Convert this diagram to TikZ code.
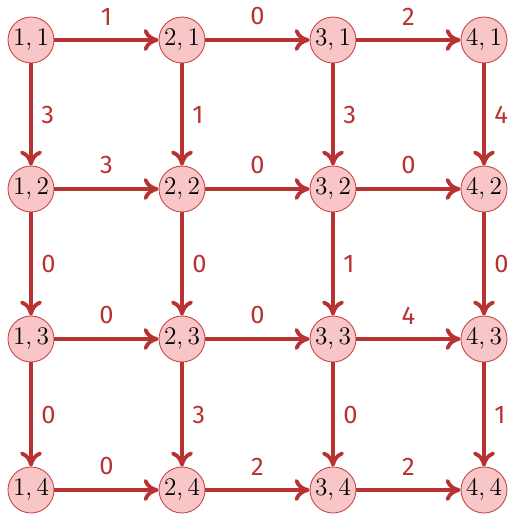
\documentclass[tikz,border=0pt]{standalone}
\usepackage{fontspec}
\usepackage{xcolor}
\usetikzlibrary{arrows.meta}
\newfontfamily\lblfont{Fira Sans}
\definecolor{edgered}{HTML}{B93232}
\definecolor{nodepink}{HTML}{F8C6C6}
\definecolor{nodeline}{HTML}{C84444}

\begin{document}
\begin{tikzpicture}[
    x=0.02cm,y=-0.02cm,
    vertex/.style={circle,draw=nodeline,fill=nodepink,line width=0.5pt,
                   minimum size=0.92cm,inner sep=0pt,
                   font=\fontsize{15}{17}\selectfont},
    arrow/.style={-{Computer Modern Rightarrow[length=0.3cm,width=0.44cm]},
                  draw=edgered,line width=2.2pt},
    weight/.style={font=\lblfont\fontsize{14.5}{16}\selectfont,text=edgered},
    hw/.style={weight,above=4pt},
    vw/.style={weight,right=1.5pt}
  ]
    \useasboundingbox (0,0) rectangle (512,515);
    % grid of vertices
    \node[vertex] (v11) at (31,40) {$1,1$};
    \node[vertex] (v21) at (182,40) {$2,1$};
    \node[vertex] (v31) at (333,40) {$3,1$};
    \node[vertex] (v41) at (484,40) {$4,1$};
    \node[vertex] (v12) at (31,189) {$1,2$};
    \node[vertex] (v22) at (182,189) {$2,2$};
    \node[vertex] (v32) at (333,189) {$3,2$};
    \node[vertex] (v42) at (484,189) {$4,2$};
    \node[vertex] (v13) at (31,339) {$1,3$};
    \node[vertex] (v23) at (182,339) {$2,3$};
    \node[vertex] (v33) at (333,339) {$3,3$};
    \node[vertex] (v43) at (484,339) {$4,3$};
    \node[vertex] (v14) at (31,490) {$1,4$};
    \node[vertex] (v24) at (182,490) {$2,4$};
    \node[vertex] (v34) at (333,490) {$3,4$};
    \node[vertex] (v44) at (484,490) {$4,4$};
    % horizontal edges
    \draw[arrow] (v11) -- node[hw] {1} (v21);
    \draw[arrow] (v21) -- node[hw] {0} (v31);
    \draw[arrow] (v31) -- node[hw] {2} (v41);
    \draw[arrow] (v12) -- node[hw] {3} (v22);
    \draw[arrow] (v22) -- node[hw] {0} (v32);
    \draw[arrow] (v32) -- node[hw] {0} (v42);
    \draw[arrow] (v13) -- node[hw] {0} (v23);
    \draw[arrow] (v23) -- node[hw] {0} (v33);
    \draw[arrow] (v33) -- node[hw] {4} (v43);
    \draw[arrow] (v14) -- node[hw] {0} (v24);
    \draw[arrow] (v24) -- node[hw] {2} (v34);
    \draw[arrow] (v34) -- node[hw] {2} (v44);
    % vertical edges
    \draw[arrow] (v11) -- node[vw] {3} (v12);
    \draw[arrow] (v12) -- node[vw] {0} (v13);
    \draw[arrow] (v13) -- node[vw] {0} (v14);
    \draw[arrow] (v21) -- node[vw] {1} (v22);
    \draw[arrow] (v22) -- node[vw] {0} (v23);
    \draw[arrow] (v23) -- node[vw] {3} (v24);
    \draw[arrow] (v31) -- node[vw] {3} (v32);
    \draw[arrow] (v32) -- node[vw] {1} (v33);
    \draw[arrow] (v33) -- node[vw] {0} (v34);
    \draw[arrow] (v41) -- node[vw] {4} (v42);
    \draw[arrow] (v42) -- node[vw] {0} (v43);
    \draw[arrow] (v43) -- node[vw] {1} (v44);
  \end{tikzpicture}
\end{document}
